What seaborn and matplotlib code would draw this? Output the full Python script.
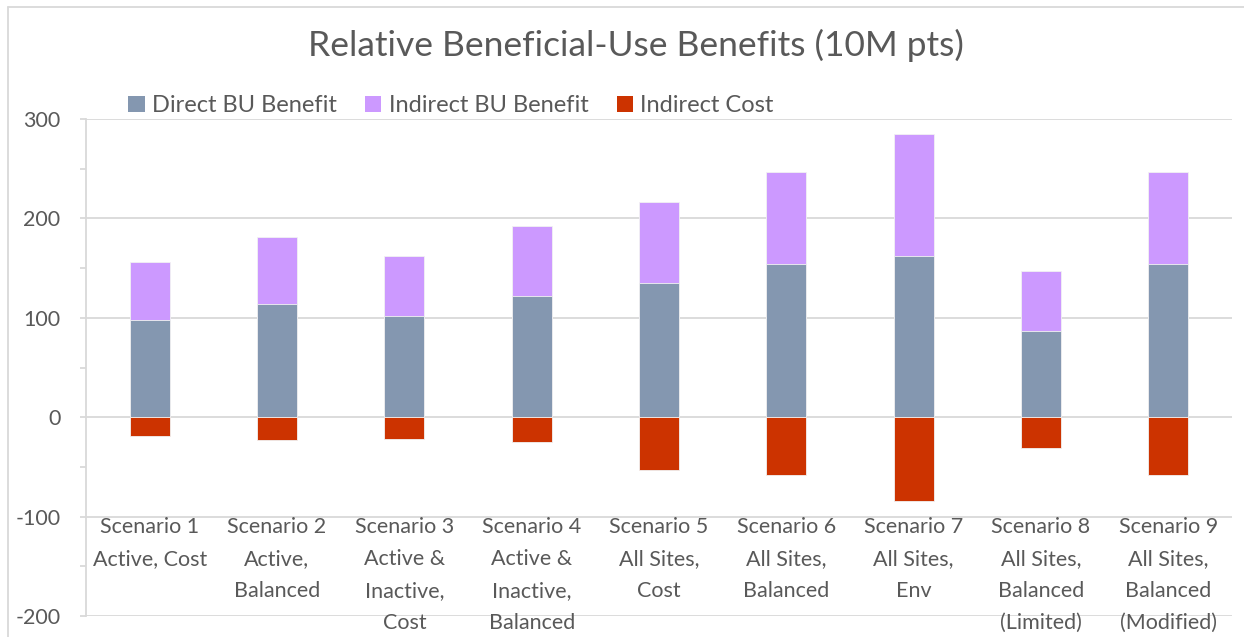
import matplotlib
matplotlib.use("Agg")
import matplotlib.pyplot as plt
from matplotlib.patches import Patch
from matplotlib.lines import Line2D
import seaborn as sns
import pandas as pd
import numpy as np

# Benefit components per scenario (10M pts)
scenarios = [
    "Scenario 1\nActive, Cost",
    "Scenario 2\nActive,\nBalanced",
    "Scenario 3\nActive &\nInactive,\nCost",
    "Scenario 4\nActive &\nInactive,\nBalanced",
    "Scenario 5\nAll Sites,\nCost",
    "Scenario 6\nAll Sites,\nBalanced",
    "Scenario 7\nAll Sites,\nEnv",
    "Scenario 8\nAll Sites,\nBalanced\n(Limited)",
    "Scenario 9\nAll Sites,\nBalanced\n(Modified)",
]
direct_bu = [98, 114, 102, 122, 135, 154, 162, 87, 154]
indirect_bu = [58, 67, 60, 70, 81, 93, 123, 60, 93]
indirect_cost = [-19, -23, -22, -25, -53, -58, -84, -31, -58]

series_names = ["Direct BU Benefit", "Indirect BU Benefit", "Indirect Cost"]
colors = ["#8497B0", "#CC99FF", "#CC3300"]
y_ticks = [-200, -100, 0, 100, 200, 300]

df = pd.DataFrame({
    "scenario": scenarios,
    "direct": direct_bu,
    "indirect": indirect_bu,
    "cost": indirect_cost,
})
df["total"] = df["direct"] + df["indirect"]

sns.set_theme(style="white")
plt.rcParams["font.family"] = ["Lato", "DejaVu Sans"]
text_color = "#595959"
grid_color = "#D9D9D9"

fig = plt.figure(figsize=(12.44, 6.37), dpi=100)
ax = fig.add_axes([86 / 1244, 1 - 616 / 637, (1232 - 86) / 1244, (616 - 119) / 637])

ax.set_axisbelow(True)
for t in y_ticks:
    ax.axhline(t, color=grid_color, lw=1.3, zorder=0)

bar_w = 0.315
edge = dict(edgecolor="#F2F2F2", linewidth=0.6)
# stacked benefit: total first, direct part drawn over it
sns.barplot(data=df, x="scenario", y="total", color=colors[1], width=bar_w,
            saturation=1, ax=ax, zorder=2, **edge)
sns.barplot(data=df, x="scenario", y="direct", color=colors[0], width=bar_w,
            saturation=1, ax=ax, zorder=3, **edge)
sns.barplot(data=df, x="scenario", y="cost", color=colors[2], width=bar_w,
            saturation=1, ax=ax, zorder=3, **edge)

ax.set_ylim(-200, 300)
ax.set_xlim(-0.5, len(scenarios) - 0.5)
ax.set_yticks(y_ticks)
ax.set_yticklabels([str(t) for t in y_ticks], fontsize=15.5, color=text_color)
ax.set_yticks(np.arange(-150, 300, 100), minor=True)
ax.tick_params(axis="y", which="both", length=4.3, width=1.3, color=grid_color,
               left=True, pad=14)
ax.set_xticks([])
ax.set_xlabel("")
ax.set_ylabel("")

for side in ["top", "right", "bottom"]:
    ax.spines[side].set_visible(False)
ax.spines["left"].set_color(grid_color)
ax.spines["left"].set_linewidth(1.3)

# category labels sit at the low end of the positive area
for i, lab in enumerate(scenarios):
    ax.text(i, -100, lab, ha="center", va="top", fontsize=15.5,
            color=text_color, linespacing=1.76, zorder=4)

fig.text(0.511, 0.928, "Relative Beneficial-Use Benefits (10M pts)",
         ha="center", va="center", fontsize=25.5, color=text_color)

handles = [Patch(facecolor=c, edgecolor="none") for c in colors]
fig.legend(handles, series_names, loc="center left",
           bbox_to_anchor=(0.103, 0.834), ncol=3, frameon=False,
           borderpad=0, borderaxespad=0,
           fontsize=17, labelcolor=text_color, handlelength=0.7,
           handleheight=0.7, handletextpad=0.3, columnspacing=1.2)

# chart area border
fig.add_artist(Line2D([8 / 1244, 8 / 1244], [0, 1 - 7 / 637],
                      transform=fig.transFigure, color=grid_color, lw=1.3))
fig.add_artist(Line2D([8 / 1244, 1], [1 - 7 / 637, 1 - 7 / 637],
                      transform=fig.transFigure, color=grid_color, lw=1.3))

fig.savefig("out.png", dpi=100, facecolor="white")
